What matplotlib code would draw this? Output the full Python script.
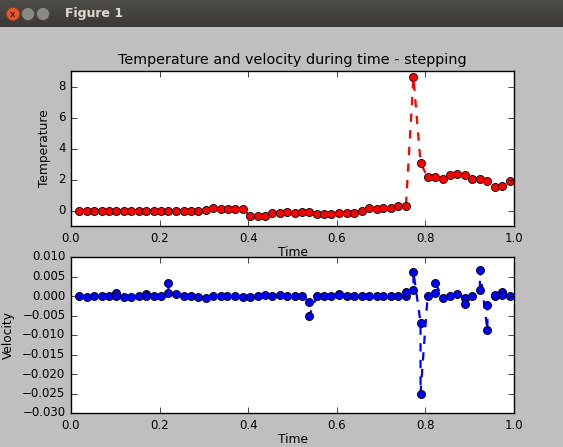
import matplotlib
matplotlib.use("Agg")
import matplotlib.pyplot as plt
from matplotlib.patches import Ellipse
import numpy as np

plt.style.use("classic")

# temperature, one value per time step
t_temp = [0.018, 0.035, 0.052, 0.069, 0.086, 0.102, 0.120, 0.136, 0.153, 0.170,
          0.187, 0.204, 0.220, 0.237, 0.254, 0.270, 0.287, 0.304, 0.321, 0.338,
          0.354, 0.371, 0.388, 0.404, 0.421, 0.438, 0.454, 0.472, 0.488, 0.506,
          0.522, 0.538, 0.555, 0.571, 0.588, 0.605, 0.622, 0.639, 0.656, 0.673,
          0.690, 0.705, 0.722, 0.739, 0.756, 0.773, 0.789, 0.805, 0.822, 0.839,
          0.856, 0.872, 0.889, 0.906, 0.923, 0.940, 0.957, 0.973, 0.990]
temp = [0, 0, 0, 0, 0, 0, 0, 0, 0, 0,
        0, 0, 0, 0, 0, 0, 0, 0.04, 0.19, 0.10,
        0.10, 0.09, 0.09, -0.34, -0.34, -0.36, -0.17, -0.13, -0.09, -0.13,
        -0.09, -0.09, -0.21, -0.21, -0.21, -0.17, -0.13, -0.13, -0.04, 0.13,
        0.09, 0.17, 0.17, 0.32, 0.28, 8.6, 3.08, 2.14, 2.14, 2.05,
        2.27, 2.33, 2.27, 2.05, 2.05, 1.92, 1.50, 1.58, 1.88]

# velocity, some steps carry two values
t_vel = [0.018, 0.035, 0.052, 0.069, 0.086, 0.102, 0.102, 0.120, 0.136, 0.153,
         0.170, 0.170, 0.187, 0.204, 0.220, 0.220, 0.237, 0.254, 0.270, 0.287,
         0.304, 0.321, 0.338, 0.353, 0.370, 0.388, 0.404, 0.421, 0.438, 0.454,
         0.472, 0.488, 0.506, 0.522, 0.538, 0.538, 0.555, 0.571, 0.588, 0.605,
         0.605, 0.622, 0.639, 0.656, 0.673, 0.690, 0.705, 0.722, 0.739, 0.756,
         0.756, 0.773, 0.773, 0.789, 0.789, 0.805, 0.822, 0.822, 0.839, 0.856,
         0.872, 0.889, 0.889, 0.906, 0.923, 0.923, 0.940, 0.940, 0.957, 0.957,
         0.973, 0.973, 0.990]
vel = [0, -0.0003, 0, 0, 0, 0.0008, 0, -0.0002, -0.0002, 0,
       0.0005, 0, 0, 0, 0.0008, 0.0033, 0.0004, 0, 0, -0.0002,
       -0.0004, 0, 0, 0, 0, -0.0003, -0.0003, 0, 0.0002, 0,
       0.0002, 0, 0, 0, -0.0015, -0.005, 0, 0, 0, 0.0006,
       0.0002, 0, 0, 0, 0, 0, 0, 0, 0, 0,
       0.0011, 0.0016, 0.0062, -0.0068, -0.025, 0, 0.0008, 0.0033, -0.0004, 0,
       0.0005, -0.0006, -0.0021, 0, 0.0016, 0.0067, -0.0088, -0.0023, 0, 0.0003,
       0.0009, 0.0003, 0]

W, H = 563, 447
fig = plt.figure(figsize=(W / 100, H / 100), dpi=100)
fig.patch.set_facecolor("#bfbfbf")

# window title bar
bar = fig.add_axes([0, 1 - 27 / H, 1, 27 / H])
grad = np.linspace(0, 1, 27).reshape(-1, 1)
bar.imshow(grad, extent=[0, W, 27, 0], aspect="auto",
           cmap=matplotlib.colors.LinearSegmentedColormap.from_list("tb", ["#4d4c47", "#3a3935"]))
bar.set_xlim(0, W)
bar.set_ylim(27, 0)
bar.axis("off")
bar.add_patch(Ellipse((13, 14), 13, 13, facecolor="#e8582b", edgecolor="#9a3a1c", lw=0.6))
bar.text(13, 14.5, "x", color="#5a1e0c", ha="center", va="center", fontsize=6, fontweight="bold")
bar.add_patch(Ellipse((28, 14), 13, 13, facecolor="#8a8984", edgecolor="#4a4944", lw=0.6))
bar.add_patch(Ellipse((43, 14), 13, 13, facecolor="#8a8984", edgecolor="#4a4944", lw=0.6))
bar.text(65, 14, "Figure 1", color="#dfdbd2", ha="left", va="center", fontsize=9, fontweight="bold")

ax1 = fig.add_axes([71 / W, 1 - 226 / H, 443 / W, 155 / H])
ax2 = fig.add_axes([71 / W, 1 - 413 / H, 443 / W, 156 / H])

ax1.plot(t_temp, temp, "ro--", lw=1.6, markersize=5.8, markeredgewidth=0.6)
ax1.set_xlim(0, 1)
ax1.set_ylim(-1, 9)
ax1.set_yticks([0, 2, 4, 6, 8])
ax1.set_title("Temperature and velocity during time - stepping", fontsize=10.4)
ax1.set_xlabel("Time", fontsize=8.8, labelpad=1)
ax1.set_ylabel("Temperature", fontsize=8.8)

ax2.plot(t_vel, vel, "bo--", lw=1.6, markersize=5.8, markeredgewidth=0.6)
ax2.set_xlim(0, 1)
ax2.set_ylim(-0.030, 0.010)
ax2.set_yticks([-0.030, -0.025, -0.020, -0.015, -0.010, -0.005, 0.000, 0.005, 0.010])
ax2.set_xlabel("Time", fontsize=8.8, labelpad=1)
ax2.set_ylabel("Velocity", fontsize=8.8)

for ax in (ax1, ax2):
    ax.tick_params(labelsize=8.5)

fig.savefig("out.png", dpi=100, facecolor=fig.get_facecolor())
